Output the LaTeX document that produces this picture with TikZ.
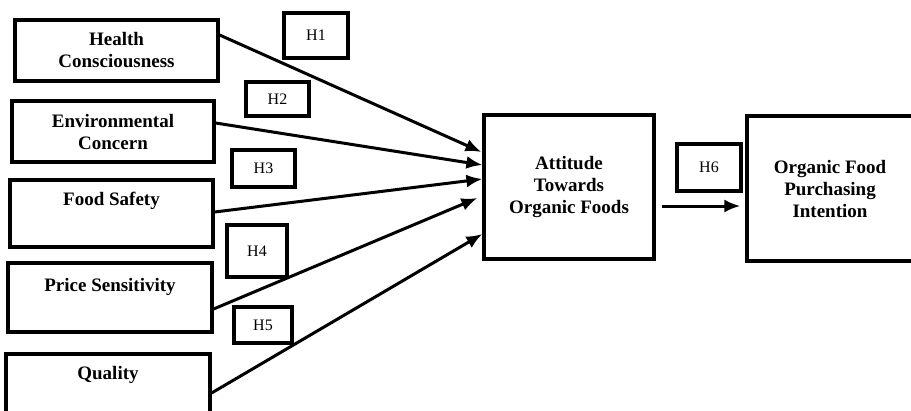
\documentclass[tikz,border=0pt]{standalone}
\usepackage{fontspec}
\setmainfont{Liberation Serif}
\usetikzlibrary{arrows.meta}

\begin{document}
\begin{tikzpicture}[x=1pt, y=-1pt,
    box/.style={draw, line width=3.2pt, inner sep=0pt, align=center, font=\bfseries\fontsize{19}{22}\selectfont},
    hbox/.style={draw, line width=3.2pt, inner sep=0pt, font=\fontsize{16}{19}\selectfont},
    freccia/.style={-{Latex[length=16pt,width=13pt]}, line width=3pt}]
        \useasboundingbox (0,0) rectangle (911,410);

        % Riquadri
        \node[box, minimum width=203pt, minimum height=61pt] (hc) at (116.5,50.5) {Health\\Consciousness};
        \node[box, minimum width=202pt, minimum height=61pt] (ec) at (113,131.5) {Environmental\\Concern};
        \node[box, minimum width=203pt, minimum height=67pt, text height=13pt, text depth=29pt] (fs) at (111.5,213.5) {Food Safety};
        \node[box, minimum width=204pt, minimum height=69pt, text height=13pt, text depth=25pt] (ps) at (110,297.5) {Price Sensitivity};
        \node[box, minimum width=204pt, minimum height=70pt, text height=13pt, text depth=32pt] (q) at (108,389) {Quality};
        \node[box, minimum width=170pt, minimum height=144pt] (att) at (569,187) {Attitude\\Towards\\Organic Foods};
        \node[box, minimum width=166pt, minimum height=145pt] (opi) at (830,188.5) {Organic Food\\Purchasing\\Intention};

        % Ipotesi
        \node[hbox, minimum width=64pt, minimum height=45pt] (h1) at (316,35.5) {H1\hspace{9pt}};
        \node[hbox, minimum width=63pt, minimum height=34pt] (h2) at (277.5,99) {H2\hspace{9pt}};
        \node[hbox, minimum width=63pt, minimum height=37pt] (h3) at (263.5,168.5) {H3\hspace{9pt}};
        \node[hbox, minimum width=60pt, minimum height=52pt] (h4) at (257,251) {H4\hspace{9pt}};
        \node[hbox, minimum width=58pt, minimum height=36pt] (h5) at (263,325) {H5};
        \node[hbox, minimum width=64pt, minimum height=47pt] (h6) at (709,167.5) {H6\hspace{9pt}};

        % Frecce
        \draw[freccia] ([yshift=15.5pt]hc.east) -- ([xshift=-1pt,yshift=35pt]att.west); % H1
        \draw[freccia] ([yshift=8.5pt]ec.east) -- ([yshift=22pt]att.west); % H2
        \draw[freccia] ([yshift=1.5pt]fs.east) -- ([yshift=8pt]att.west); % H3
        \draw[freccia] ([yshift=-11.5pt]ps.east) -- ([xshift=-5pt,yshift=-11pt]att.west); % H4
        \draw[freccia] ([yshift=-4pt]q.east) -- ([yshift=-47pt]att.west); % H5
        \draw[freccia] ([xshift=6pt,yshift=-19pt]att.east) -- ([xshift=-5pt,yshift=-17.5pt]opi.west); % H6

\end{tikzpicture}
\end{document}
